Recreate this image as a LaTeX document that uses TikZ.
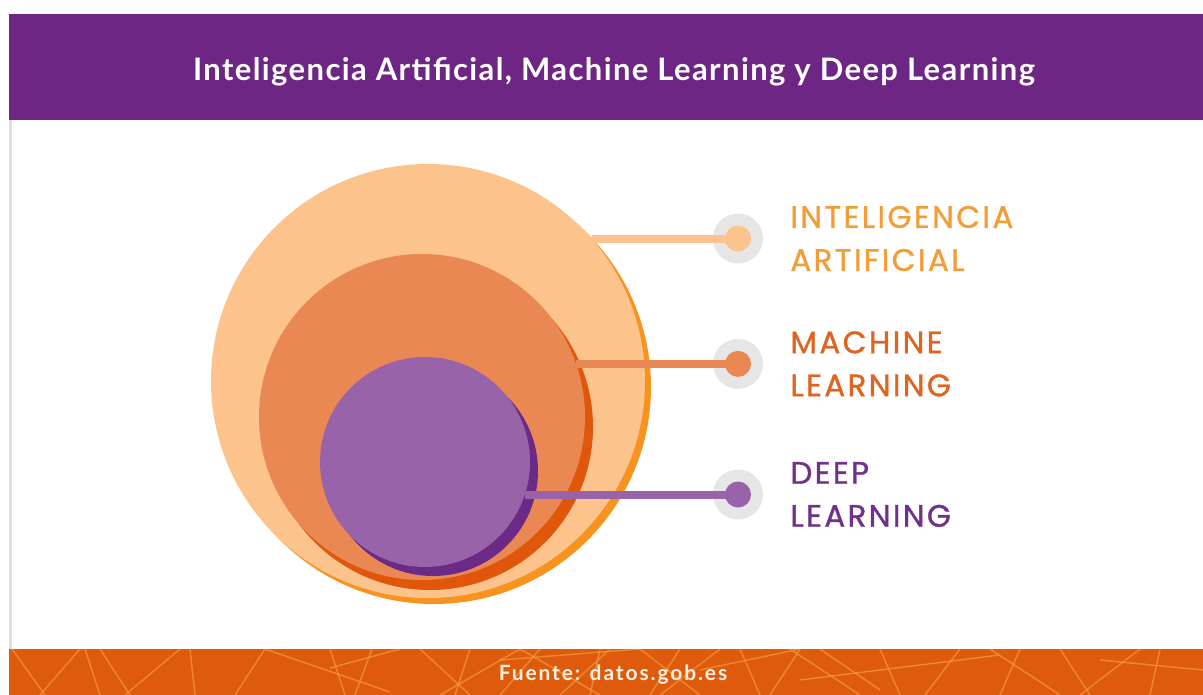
\documentclass[tikz,border=0pt]{standalone}
\usepackage{fontspec}
\setmainfont{Lato}
\newfontfamily\titlefont{Lato}[LetterSpace=4.5]
\newfontfamily\sourcefont{Lato}[LetterSpace=9]
\newfontfamily\labelfont{Poppins}[LetterSpace=7.5, FakeBold=1]
\usetikzlibrary{positioning, shapes, shadows, calc}
\definecolor{headpurple}{HTML}{6D2684}
\definecolor{footorange}{HTML}{DE5A0C}
\definecolor{footline}{HTML}{F39A3A}
\definecolor{aifill}{HTML}{FCC48C}
\definecolor{airim}{HTML}{F7931E}
\definecolor{aitext}{HTML}{F29D38}
\definecolor{mlfill}{HTML}{E98852}
\definecolor{mlrim}{HTML}{E0560B}
\definecolor{mltext}{HTML}{DE6420}
\definecolor{dlfill}{HTML}{9963A9}
\definecolor{dlrim}{HTML}{6B2A86}
\definecolor{dltext}{HTML}{70318A}
\definecolor{halogray}{HTML}{E6E6E6}

\begin{document}
\begin{tikzpicture}[x=1pt, y=-1pt,
  set/.style={circle, inner sep=0pt, minimum size=#1},
  halo/.style={circle, inner sep=0pt, minimum size=50pt, fill=halogray},
  dot/.style={circle, inner sep=0pt, minimum size=26pt, fill=#1},
  link/.style={line width=8pt, #1},
  tag/.style={anchor=west, inner sep=0pt, align=left, text=#1,
    font=\labelfont\fontsize{31}{43}\selectfont}]
  \useasboundingbox (0,0) rectangle (1203,695);

  \fill[headpurple] (9,14) rectangle (1203,120);
  \node[text=white, font=\titlefont\bfseries\fontsize{31}{35}\selectfont] (title) at (614,72) {Inteligencia Artificial, Machine Learning y Deep Learning};
  \fill[gray!25] (9,120) rectangle (12,649);

  \fill[footorange] (9,649) rectangle (1203,695);
  \begin{scope}
    \clip (9,649) rectangle (1203,695);
    \foreach \xa/\ya/\xb/\yb in {12/649/45/695, 80/649/40/695, 85/649/100/695, 100/649/130/695,
      180/649/125/695, 190/649/195/695, 265/649/235/695, 265/649/390/692, 330/668/400/649,
      330/649/345/695, 372/649/355/695, 420/649/470/695, 440/695/520/649, 470/649/455/695,
      500/660/640/649, 520/649/600/695, 560/695/610/649, 600/649/590/695, 640/649/700/695,
      660/695/720/649, 700/670/800/649, 740/649/760/695, 770/695/800/649, 790/649/860/695,
      800/680/1000/655, 820/649/880/690, 880/649/900/695, 960/649/925/695, 990/649/1060/695,
      1020/649/1000/695, 1060/649/1090/695, 1100/660/1203/670, 1160/649/1150/695,
      1080/695/1140/649, 540/649/500/695, 680/649/650/695}
      \draw[footline, line width=1.5pt, opacity=.7] (\xa,\ya) -- (\xb,\yb);
  \end{scope}
  \node[text=orange!12, font=\sourcefont\bfseries\fontsize{21}{24}\selectfont] (source) at (613,675) {Fuente: datos.gob.es};

  \node[set=434pt, fill=aifill, general shadow={fill=airim, shadow xshift=6pt, shadow yshift=-6pt}] (ai) at (428,381) {};
  \node[set=326pt, fill=mlfill, general shadow={fill=mlrim, shadow xshift=8pt, shadow yshift=-10pt}] (ml) at (422,417) {};
  \node[set=210pt, fill=dlfill, general shadow={fill=dlrim, shadow xshift=8pt, shadow yshift=-9pt}] (dl) at (425,462) {};

  \node[halo] (aihalo) at (ai.41 -| 738,0) {};
  \node[halo] (mlhalo) at (ml.19 -| 738,0) {};
  \node[halo] (dlhalo) at (dl.-18 -| 738,0) {};

  \draw[link=aifill] (ai.41) -- (aihalo.center);
  \draw[link=mlfill] (ml.19) -- (mlhalo.center);
  \draw[link=dlfill] (dl.-18) -- (dlhalo.center);

  \node[dot=aifill] (aidot) at (aihalo) {};
  \node[dot=mlfill] (mldot) at (mlhalo) {};
  \node[dot=dlfill] (dldot) at (dlhalo) {};

  \node[tag=aitext, right=27pt of aihalo] (ailabel) {INTELIGENCIA\\ARTIFICIAL};
  \node[tag=mltext, right=27pt of mlhalo] (mllabel) {MACHINE\\LEARNING};
  \node[tag=dltext, right=27pt of dlhalo] (dllabel) {DEEP\\LEARNING};
\end{tikzpicture}
\end{document}
